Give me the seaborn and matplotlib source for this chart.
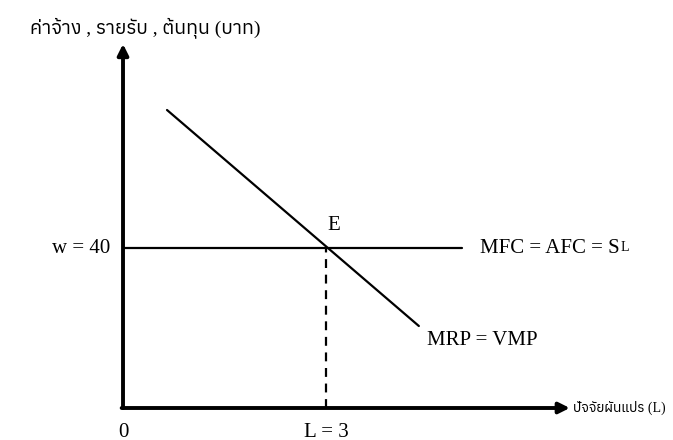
import matplotlib
matplotlib.use("Agg")
import matplotlib.pyplot as plt
from matplotlib import font_manager, ft2font
import seaborn as sns

# equilibrium in the labour market
mrp_x = [0.65, 4.37]
mrp_y = [74.5, 20.5]
mfc_x = [0, 5.0]
mfc_y = [40, 40]
eq_L = 3
eq_w = 40

y_label = "ค่าจ้าง , รายรับ , ต้นทุน (บาท)"
x_label = "ปัจจัยผันแปร (L)"
w_label = "w = 40"
L_label = "L = 3"
mfc_label = "MFC = AFC = S"
mrp_label = "MRP = VMP"

sns.set_theme(style="white")

# look for any installed font that has Thai glyphs
thai_fonts = []
for f in font_manager.fontManager.ttflist:
    try:
        if 0x0E01 in ft2font.FT2Font(f.fname).get_charmap():
            thai_fonts.append(f.name)
    except Exception:
        pass
thai_fonts = sorted(set(thai_fonts))
plt.rcParams["font.family"] = ["Liberation Serif"] + thai_fonts + ["DejaVu Sans"]
plt.rcParams["text.color"] = "black"

fig = plt.figure(figsize=(6.73, 4.4), dpi=100)
ax = fig.add_axes([0, 0, 1, 1])
ax.set_xlim(-1.817, 8.124)
ax.set_ylim(-8, 102)
ax.axis("off")

# axes drawn as arrows
arrow = dict(arrowstyle="-|>", color="black", lw=2.8,
             mutation_scale=16, shrinkA=0, shrinkB=0)
ax.annotate("", xy=(0, 91), xytext=(0, 0), arrowprops=arrow)
ax.annotate("", xy=(6.6, 0), xytext=(-0.02, 0), arrowprops=arrow)

sns.lineplot(x=mfc_x, y=mfc_y, ax=ax, color="black", lw=1.6)
sns.lineplot(x=mrp_x, y=mrp_y, ax=ax, color="black", lw=1.6)
ax.plot([eq_L, eq_L], [0, eq_w], color="black", lw=1.6, ls=(0, (4, 3)))

fs = 15
fs_th = 14
fig.text(30 / 673, 1 - 28 / 440, y_label, fontsize=fs_th, ha="left", va="center")
ax.text(-0.19, eq_w, w_label, fontsize=fs, ha="right", va="center")
ax.text(eq_L + 0.02, eq_w + 3.2, "E", fontsize=fs, ha="left", va="bottom")
t = ax.text(5.28, eq_w, mfc_label, fontsize=fs, ha="left", va="center")
ax.annotate("L", xy=(1, 0.18), xycoords=t, xytext=(0.5, 0), textcoords="offset points",
            fontsize=10, ha="left", va="bottom")
ax.text(4.49, 17, mrp_label, fontsize=fs, ha="left", va="center")
ax.text(6.64, 0, x_label, fontsize=10, ha="left", va="center")
ax.text(0, -6, "0", fontsize=fs, ha="center", va="center")
ax.text(eq_L, -6, L_label, fontsize=fs, ha="center", va="center")

fig.savefig("out.png", dpi=100)
